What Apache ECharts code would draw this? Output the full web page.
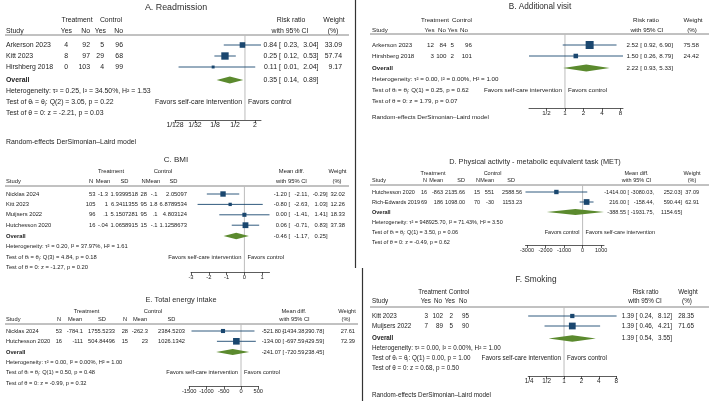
<!DOCTYPE html>
<html>
<head>
<meta charset="utf-8">
<script src="https://cdn.jsdelivr.net/npm/echarts@6/dist/echarts.min.js"></script>
<style>
html, body { margin: 0; padding: 0; background: #fff; }
#chart { width: 709px; height: 401px; }
</style>
</head>
<body>
<div id="chart"></div>
<script>
// A. Readmission
const aStudies = ['Arkerson 2023', 'Kitt 2023', 'Hirshberg 2018'];
const aTreatYes = [4, 8, 0];
const aTreatNo = [92, 97, 103];
const aCtrlYes = [5, 29, 4];
const aCtrlNo = [96, 68, 99];
const aRR = [0.84, 0.25, 0.11];
const aLo = [0.23, 0.12, 0.01];
const aHi = [3.04, 0.53, 2.04];
const aWeight = [33.09, 57.74, 9.17];
const aOverall = [0.35, 0.14, 0.89];
const aStats = ['Heterogeneity: τ² = 0.25, I² = 34.50%, H² = 1.53', 'Test of θᵢ = θⱼ: Q(2) = 3.05, p = 0.22', 'Test of θ = 0: z = -2.21, p = 0.03'];
const aTicks = [1 / 128, 1 / 32, 1 / 8, 1 / 2, 2];
const aTickLabels = ['1/128', '1/32', '1/8', '1/2', '2'];

// B. Additional visit
const bStudies = ['Arkerson 2023', 'Hirshberg 2018'];
const bTreatYes = [12, 3];
const bTreatNo = [84, 100];
const bCtrlYes = [5, 2];
const bCtrlNo = [96, 101];
const bRR = [2.52, 1.50];
const bLo = [0.92, 0.26];
const bHi = [6.90, 8.79];
const bWeight = [75.58, 24.42];
const bOverall = [2.22, 0.93, 5.33];
const bStats = ['Heterogeneity: τ² = 0.00, I² = 0.00%, H² = 1.00', 'Test of θᵢ = θⱼ: Q(1) = 0.25, p = 0.62', 'Test of θ = 0: z = 1.79, p = 0.07'];
const bTicks = [1 / 2, 1, 2, 4, 8];
const bTickLabels = ['1/2', '1', '2', '4', '8'];

// C. BMI
const cStudies = ['Nicklas 2024', 'Kitt 2023', 'Muijsers 2022', 'Hutchesson 2020'];
const cTreatN = [53, 105, 96, 16];
const cTreatMean = [-1.3, 1, 0.1, -0.04];
const cTreatSD = [1.9399518, 6.3411355, 5.1507281, 1.0658915];
const cCtrlN = [28, 95, 95, 15];
const cCtrlMean = [-0.1, 1.8, 0.1, -0.1];
const cCtrlSD = [2.05097, 6.8789534, 4.803124, 1.1258673];
const cMD = [-1.20, -0.80, 0.00, 0.06];
const cLo = [-2.11, -2.63, -1.41, -0.71];
const cHi = [-0.29, 1.03, 1.41, 0.83];
const cWeight = [32.02, 12.26, 18.33, 37.38];
const cOverall = [-0.46, -1.17, 0.25];
const cStats = ['Heterogeneity: τ² = 0.20, I² = 37.97%, H² = 1.61', 'Test of θᵢ = θⱼ: Q(3) = 4.84, p = 0.18', 'Test of θ = 0: z = -1.27, p = 0.20'];
const cTicks = [-3, -2, -1, 0, 1];
const cTickLabels = ['-3', '-2', '-1', '0', '1'];

// D. Physical activity (MET)
const dStudies = ['Hutchesson 2020', 'Rich-Edwards 2019'];
const dTreatN = [16, 69];
const dTreatMean = [-863, 186];
const dTreatSD = [2135.66, 1098.00];
const dCtrlN = [15, 70];
const dCtrlMean = [551, -30];
const dCtrlSD = [2588.56, 1153.23];
const dMD = [-1414.00, 216.00];
const dLo = [-3080.03, -158.44];
const dHi = [252.03, 590.44];
const dWeight = [37.09, 62.91];
const dOverall = [-388.55, -1931.75, 1154.65];
const dStats = ['Heterogeneity: τ² = 948925.70, I² = 71.43%, H² = 3.50', 'Test of θᵢ = θⱼ: Q(1) = 3.50, p = 0.06', 'Test of θ = 0: z = -0.49, p = 0.62'];
const dTicks = [-3000, -2000, -1000, 0, 1000];
const dTickLabels = ['-3000', '-2000', '-1000', '0', '1000'];

// E. Total energy intake
const eStudies = ['Nicklas 2024', 'Hutchesson 2020'];
const eTreatN = [53, 16];
const eTreatMean = [-784.1, -111];
const eTreatSD = [1755.5233, 504.84496];
const eCtrlN = [28, 15];
const eCtrlMean = [-262.3, 23];
const eCtrlSD = [2384.5203, 1026.1342];
const eMD = [-521.80, -134.00];
const eLo = [-1434.38, -697.59];
const eHi = [390.78, 429.59];
const eWeight = [27.61, 72.39];
const eOverall = [-241.07, -720.59, 238.45];
const eStats = ['Heterogeneity: τ² = 0.00, I² = 0.00%, H² = 1.00', 'Test of θᵢ = θⱼ: Q(1) = 0.50, p = 0.48', 'Test of θ = 0: z = -0.99, p = 0.32'];
const eTicks = [-1500, -1000, -500, 0, 500];
const eTickLabels = ['-1500', '-1000', '-500', '0', '500'];

// F. Smoking
const fStudies = ['Kitt 2023', 'Muijsers 2022'];
const fTreatYes = [3, 7];
const fTreatNo = [102, 89];
const fCtrlYes = [2, 5];
const fCtrlNo = [95, 90];
const fRR = [1.39, 1.39];
const fLo = [0.24, 0.46];
const fHi = [8.12, 4.21];
const fWeight = [28.35, 71.65];
const fOverall = [1.39, 0.54, 3.55];
const fStats = ['Heterogeneity: τ² = 0.00, I² = 0.00%, H² = 1.00', 'Test of θᵢ = θⱼ: Q(1) = 0.00, p = 1.00', 'Test of θ = 0: z = 0.68, p = 0.50'];
const fTicks = [1 / 4, 1 / 2, 1, 2, 4, 8];
const fTickLabels = ['1/4', '1/2', '1', '2', '4', '8'];

const favorsSelfFirst = ['Favors self-care intervention', 'Favors control'];
const favorsCtrlFirst = ['Favors control', 'Favors self-care intervention'];
const footnote = 'Random-effects DerSimonian–Laird model';

const FONT = '"Liberation Sans", Arial, sans-serif';
const TXT = '#222';
const AXIS = '#333';
const NAVY = '#1a476f';
const GREEN = '#5b8a2e';
const REF = '#bcbcbc';

const stata = v => String(v).replace(/^(-?)0\./, '$1.');
const f2 = v => v.toFixed(2);

function txt(x, y, s, fs, align, bold, color) {
    const font = (bold ? 'bold ' : '') + fs + 'px ' + FONT;
    return {
        type: 'text', x: x, y: y, silent: true,
        style: {
            text: s, fill: color || TXT, font: font,
            align: align || 'left', textAlign: align || 'left',
            verticalAlign: 'middle', textVerticalAlign: 'middle'
        }
    };
}

const panels = [
    {
        title: 'A. Readmission', studies: aStudies, cols: [aTreatYes, aTreatNo, aCtrlYes, aCtrlNo],
        fmt: [String, String, String, String], est: aRR, lo: aLo, hi: aHi, weight: aWeight,
        overall: aOverall, stats: aStats, ticks: aTicks, tickLabels: aTickLabels, log: true, ref: 1,
        favors: favorsSelfFirst, foot: true,
        L: {
            fs: 6.9, tfs: 8.9, titleX: 176, titleY: 8,
            head1Y: 20, head1: [['Treatment', 77, 'center'], ['Control', 111, 'center'], ['Risk ratio', 291, 'center'], ['Weight', 334, 'center']],
            head2Y: 31, head2: [['Study', 6, 'left'], ['Yes', 72, 'right'], ['No', 90, 'right'], ['Yes', 106, 'right'], ['No', 123, 'right'], ['with 95% CI', 290, 'center'], ['(%)', 333, 'center']],
            lineY: 35, lineX: [5, 349],
            nameX: 6, colX: [68, 90, 104, 123],
            ciE: 277, ciL: 299, ciR: 318.5, wX: 342,
            left: 175, width: 86, top: 35, axisY: 120,
            rowY: 45, step: 11, overallRow: 3.18, sq: 0.97, dh: 7,
            footX: 6, footY: 142
        }
    },
    {
        title: 'B. Additional visit', studies: bStudies, cols: [bTreatYes, bTreatNo, bCtrlYes, bCtrlNo],
        fmt: [String, String, String, String], est: bRR, lo: bLo, hi: bHi, weight: bWeight,
        overall: bOverall, stats: bStats, ticks: bTicks, tickLabels: bTickLabels, log: true, ref: 1,
        favors: favorsSelfFirst, foot: true,
        L: {
            fs: 6.2, tfs: 8.2, titleX: 540, titleY: 7,
            head1Y: 20, head1: [['Treatment', 435, 'center'], ['Control', 462, 'center'], ['Risk ratio', 646, 'center'], ['Weight', 693, 'center']],
            head2Y: 30, head2: [['Study', 372, 'left'], ['Yes', 434.5, 'right'], ['No', 446, 'right'], ['Yes', 457.5, 'right'], ['No', 468, 'right'], ['with 95% CI', 647, 'center'], ['(%)', 692, 'center']],
            lineY: 34, lineX: [370, 709],
            nameX: 372, colX: [434, 446.5, 454, 472],
            ciE: 638.5, ciL: 657.5, ciR: 673, wX: 699,
            left: 529, width: 94, top: 34, axisY: 108,
            rowY: 45, step: 11, overallRow: 2.1, sq: 0.92, dh: 7,
            footX: 372, footY: 117
        }
    },
    {
        title: 'C. BMI', studies: cStudies, cols: [cTreatN, cTreatMean, cTreatSD, cCtrlN, cCtrlMean, cCtrlSD],
        fmt: [String, stata, stata, String, stata, stata], est: cMD, lo: cLo, hi: cHi, weight: cWeight,
        overall: cOverall, stats: cStats, ticks: cTicks, tickLabels: cTickLabels, log: false, ref: 0,
        favors: favorsSelfFirst, foot: false,
        L: {
            fs: 5.8, tfs: 8, titleX: 176, titleY: 160,
            head1Y: 171, head1: [['Treatment', 111, 'center'], ['Control', 163, 'center'], ['Mean diff.', 291.5, 'center'], ['Weight', 337.5, 'center']],
            head2Y: 181, head2: [['Study', 6, 'left'], ['N', 91, 'center'], ['Mean', 103, 'center'], ['SD', 124.5, 'center'], ['N', 143.5, 'center'], ['Mean', 153, 'center'], ['SD', 173.5, 'center'], ['with 95% CI', 291.5, 'center'], ['(%)', 337, 'center']],
            lineY: 186, lineX: [5, 349],
            nameX: 6, colX: [95.5, 108, 138, 147, 157.5, 187],
            ciE: 287, ciL: 309, ciR: 327.5, wX: 345,
            left: 191, width: 78.5, top: 186, axisY: 272,
            rowY: 194, step: 10.4, overallRow: 4.05, sq: 0.95, dh: 6.5
        }
    },
    {
        title: 'D. Physical activity - metabolic equivalent task (MET)', studies: dStudies,
        cols: [dTreatN, dTreatMean, dTreatSD, dCtrlN, dCtrlMean, dCtrlSD],
        fmt: [String, String, f2, String, String, f2], est: dMD, lo: dLo, hi: dHi, weight: dWeight,
        overall: dOverall, stats: dStats, ticks: dTicks, tickLabels: dTickLabels, log: false, ref: 0,
        favors: favorsCtrlFirst, foot: false,
        L: {
            fs: 5.5, tfs: 7.3, titleX: 535, titleY: 162,
            head1Y: 173, head1: [['Treatment', 433, 'center'], ['Control', 492.5, 'center'], ['Mean diff.', 636.5, 'center'], ['Weight', 692, 'center']],
            head2Y: 180, head2: [['Study', 372, 'left'], ['N', 427, 'right'], ['Mean', 443, 'right'], ['SD', 465, 'right'], ['N', 480, 'right'], ['Mean', 494, 'right'], ['SD', 515, 'right'], ['with 95% CI', 636.5, 'center'], ['(%)', 692, 'center']],
            lineY: 185, lineX: [370, 709],
            nameX: 372, colX: [427, 443, 465, 480, 494, 522],
            ciE: 626, ciL: 654, ciR: 682, wX: 699,
            left: 525.5, width: 78.5, top: 185, axisY: 245,
            rowY: 192, step: 10, overallRow: 2, sq: 0.72, dh: 6
        }
    },
    {
        title: 'E. Total energy intake', studies: eStudies, cols: [eTreatN, eTreatMean, eTreatSD, eCtrlN, eCtrlMean, eCtrlSD],
        fmt: [String, String, String, String, String, String], est: eMD, lo: eLo, hi: eHi, weight: eWeight,
        overall: eOverall, stats: eStats, ticks: eTicks, tickLabels: eTickLabels, log: false, ref: 0,
        favors: favorsSelfFirst, foot: false,
        L: {
            fs: 5.7, tfs: 7.4, titleX: 181, titleY: 300,
            head1Y: 311, head1: [['Treatment', 86.5, 'center'], ['Control', 153, 'center'], ['Mean diff.', 294, 'center'], ['Weight', 347, 'center']],
            head2Y: 319, head2: [['Study', 6, 'left'], ['N', 59, 'center'], ['Mean', 75, 'center'], ['SD', 102, 'center'], ['N', 125, 'center'], ['Mean', 140, 'center'], ['SD', 171.5, 'center'], ['with 95% CI', 294.5, 'center'], ['(%)', 346, 'center']],
            lineY: 324, lineX: [5, 358],
            nameX: 6, colX: [62, 83, 115, 128, 148, 185],
            ciE: 281, ciL: 306, ciR: 324, wX: 355,
            left: 189.25, width: 69, top: 324, axisY: 386,
            rowY: 331, step: 10.3, overallRow: 2.05, sq: 0.78, dh: 6
        }
    },
    {
        title: 'F. Smoking', studies: fStudies, cols: [fTreatYes, fTreatNo, fCtrlYes, fCtrlNo],
        fmt: [String, String, String, String], est: fRR, lo: fLo, hi: fHi, weight: fWeight,
        overall: fOverall, stats: fStats, ticks: fTicks, tickLabels: fTickLabels, log: true, ref: 1,
        favors: favorsSelfFirst, foot: true,
        L: {
            fs: 6.3, tfs: 8.3, titleX: 536, titleY: 280,
            head1Y: 292, head1: [['Treatment', 432.5, 'center'], ['Control', 459, 'center'], ['Risk ratio', 645.5, 'center'], ['Weight', 688, 'center']],
            head2Y: 301, head2: [['Study', 372, 'left'], ['Yes', 431, 'right'], ['No', 442, 'right'], ['Yes', 455, 'right'], ['No', 467, 'right'], ['with 95% CI', 645, 'center'], ['(%)', 687, 'center']],
            lineY: 307, lineX: [370, 709],
            nameX: 372, colX: [428, 443, 453, 469],
            ciE: 634, ciL: 653.5, ciR: 672, wX: 694,
            left: 528.2, width: 88.4, top: 307, axisY: 376,
            rowY: 316, step: 10, overallRow: 2.25, sq: 0.8, dh: 6.5,
            footX: 372, footY: 395
        }
    }
];

const grids = [], xAxes = [], yAxes = [], series = [], graphics = [];

panels.forEach(function (p, k) {
    const L = p.L;
    const lo = Math.min(p.ticks[0], ...p.lo, p.overall[1]);
    const hi = Math.max(p.ticks[p.ticks.length - 1], ...p.hi, p.overall[2]);

    grids.push({ left: L.left, top: L.top, width: L.width, height: L.axisY - L.top });
    xAxes.push({
        gridIndex: k, type: p.log ? 'log' : 'value', logBase: 2, min: lo, max: hi,
        axisLine: { show: true, onZero: false, lineStyle: { color: AXIS, width: 0.8 } },
        axisTick: { show: true, length: 3, customValues: p.ticks, lineStyle: { color: AXIS, width: 0.8 } },
        axisLabel: {
            customValues: p.ticks, margin: 2, color: TXT, fontSize: L.fs, fontFamily: FONT,
            formatter: function (v) {
                const j = p.ticks.findIndex(t => Math.abs(t - v) < 1e-6 * Math.max(1, Math.abs(t)));
                return j >= 0 ? p.tickLabels[j] : '';
            }
        },
        splitLine: { show: false }
    });
    yAxes.push({
        gridIndex: k, type: 'value', inverse: true, show: false,
        min: (L.top - L.rowY) / L.step, max: (L.axisY - L.rowY) / L.step
    });

    // reference line, overall diamond, overall row text and test statistics
    series.push({
        type: 'custom', xAxisIndex: k, yAxisIndex: k, silent: true, clip: false,
        data: [[p.overall[0], L.overallRow, p.overall[1], p.overall[2]]],
        encode: { x: [0, 2, 3], y: 1 },
        renderItem: function (params, api) {
            const cs = params.coordSys;
            const row = api.value(1);
            const c = api.coord([api.value(0), row]);
            const xl = api.coord([api.value(2), row])[0];
            const xh = api.coord([api.value(3), row])[0];
            const xr = api.coord([p.ref, row])[0];
            const y = c[1];
            const yFav = api.coord([p.ref, row + 2])[1];
            const children = [
                { type: 'line', shape: { x1: xr, y1: cs.y, x2: xr, y2: cs.y + cs.height }, style: { stroke: REF, lineWidth: 1 } },
                { type: 'polygon', shape: { points: [[xl, y], [c[0], y - L.dh / 2], [xh, y], [c[0], y + L.dh / 2]] }, style: { fill: GREEN } },
                txt(L.nameX, y, 'Overall', L.fs, 'left', true),
                txt(L.ciE, y, f2(api.value(0)), L.fs, 'right'),
                txt(L.ciE + L.fs * 0.28, y, '[', L.fs, 'left'),
                txt(L.ciL, y, f2(api.value(2)) + ',', L.fs, 'right'),
                txt(L.ciR, y, f2(api.value(3)) + ']', L.fs, 'right'),
                txt(xr - 3, yFav, p.favors[0], L.fs, 'right'),
                txt(xr + 3, yFav, p.favors[1], L.fs, 'left')
            ];
            p.stats.forEach(function (s, j) {
                children.push(txt(L.nameX, api.coord([p.ref, row + j + 1])[1], s, L.fs, 'left'));
            });
            return { type: 'group', children: children };
        }
    });

    // individual studies: CI line, weighted square and table row
    series.push({
        type: 'custom', xAxisIndex: k, yAxisIndex: k, silent: true, clip: false,
        data: p.studies.map((s, i) => [p.est[i], i, p.lo[i], p.hi[i], p.weight[i]]),
        encode: { x: [0, 2, 3], y: 1 },
        renderItem: function (params, api) {
            const i = params.dataIndex;
            const c = api.coord([api.value(0), api.value(1)]);
            const xl = api.coord([api.value(2), api.value(1)])[0];
            const xh = api.coord([api.value(3), api.value(1)])[0];
            const y = c[1];
            const s = Math.sqrt(api.value(4)) * L.sq;
            const children = [
                { type: 'line', shape: { x1: xl, y1: y, x2: xh, y2: y }, style: { stroke: NAVY, lineWidth: 0.9 } },
                { type: 'rect', shape: { x: c[0] - s / 2, y: y - s / 2, width: s, height: s }, style: { fill: NAVY } },
                txt(L.nameX, y, p.studies[i], L.fs, 'left'),
                txt(L.ciE, y, f2(api.value(0)), L.fs, 'right'),
                txt(L.ciE + L.fs * 0.28, y, '[', L.fs, 'left'),
                txt(L.ciL, y, f2(api.value(2)) + ',', L.fs, 'right'),
                txt(L.ciR, y, f2(api.value(3)) + ']', L.fs, 'right'),
                txt(L.wX, y, f2(api.value(4)), L.fs, 'right')
            ];
            p.cols.forEach(function (col, j) {
                children.push(txt(L.colX[j], y, p.fmt[j](col[i]), L.fs, 'right'));
            });
            return { type: 'group', children: children };
        }
    });

    graphics.push(txt(L.titleX, L.titleY, p.title, L.tfs, 'center', false, '#2b2b2b'));
    L.head1.forEach(h => graphics.push(txt(h[1], L.head1Y, h[0], L.fs, h[2])));
    L.head2.forEach(h => graphics.push(txt(h[1], L.head2Y, h[0], L.fs, h[2])));
    graphics.push({ type: 'line', silent: true, shape: { x1: L.lineX[0], y1: L.lineY, x2: L.lineX[1], y2: L.lineY }, style: { stroke: '#666', lineWidth: 0.8 } });
    if (p.foot) graphics.push(txt(L.footX, L.footY, footnote, L.fs, 'left'));
});

// panel borders
graphics.push({ type: 'line', silent: true, shape: { x1: 355.5, y1: 0, x2: 355.5, y2: 268 }, style: { stroke: '#333', lineWidth: 1.2 } });
graphics.push({ type: 'line', silent: true, shape: { x1: 362.5, y1: 268, x2: 362.5, y2: 401 }, style: { stroke: '#333', lineWidth: 1.2 } });

const chart = echarts.init(document.getElementById('chart'));
chart.setOption({
    animation: false,
    backgroundColor: '#fff',
    grid: grids,
    xAxis: xAxes,
    yAxis: yAxes,
    series: series,
    graphic: { elements: graphics }
});
</script>
</body>
</html>
